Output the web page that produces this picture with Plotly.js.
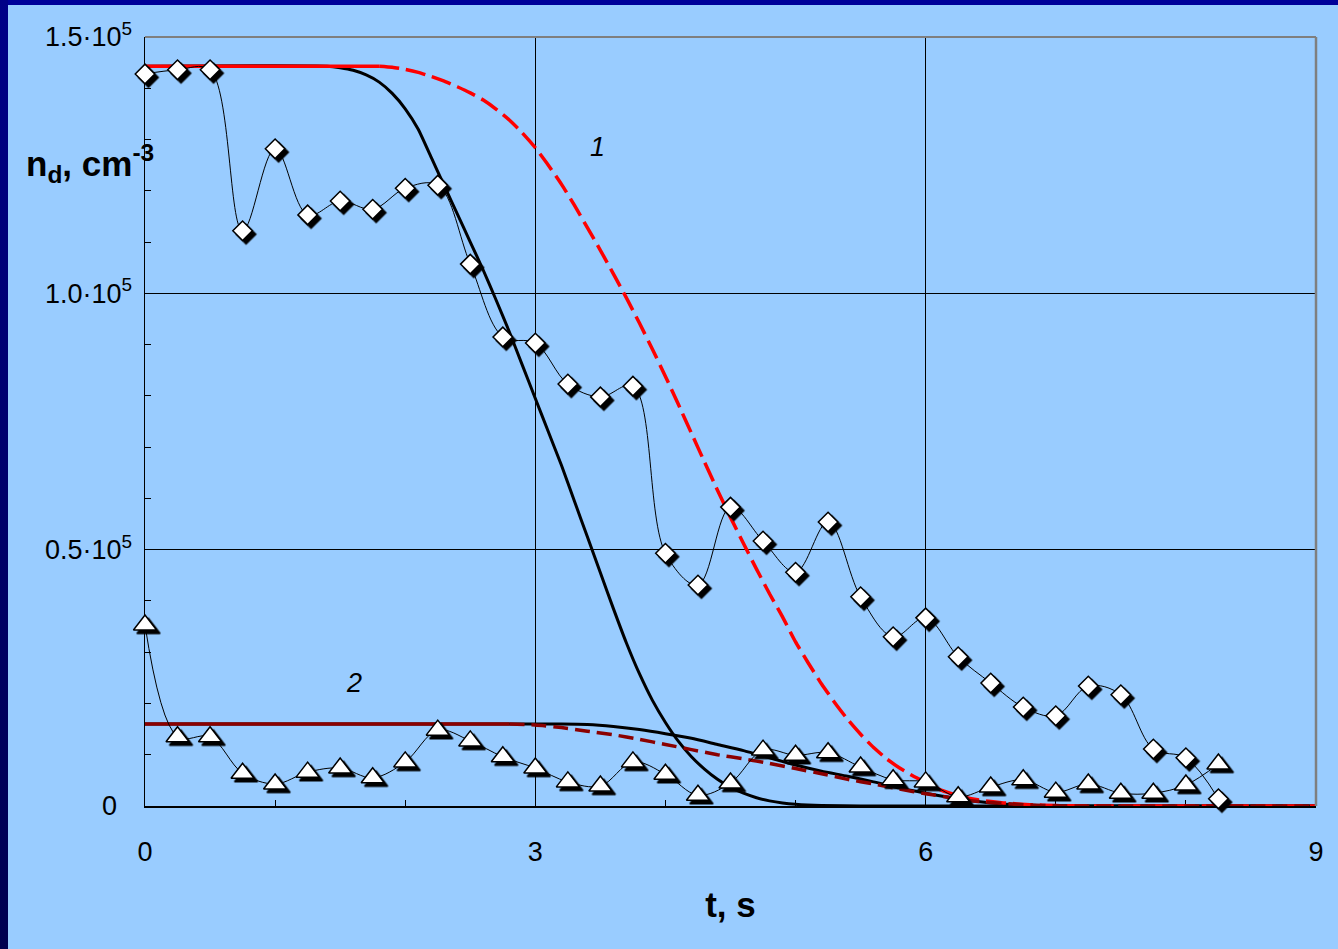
<!DOCTYPE html>
<html>
<head>
<meta charset="utf-8">
<script src="https://cdn.plot.ly/plotly-3.0.1.min.js"></script>
<style>
  html, body { margin: 0; padding: 0; background: #99ccff; overflow: hidden; }
  #topbar { position: absolute; left: 0; top: 0; width: 1338px; height: 5px; background: #000099; }
  #leftbar { position: absolute; left: 0; top: 0; width: 8px; height: 949px; background: linear-gradient(#000088, #000050); }
  #plot { position: absolute; left: 8px; top: 5px; width: 1330px; height: 944px; }
  /* offset black shadow under the experimental markers */
  #plot .scatterlayer .points path { filter: url(#mshadow); }
</style>
</head>
<body>
<svg width="0" height="0" style="position:absolute">
  <defs>
    <filter id="mshadow" x="-60%" y="-60%" width="220%" height="220%">
      <feDropShadow dx="3.5" dy="3.5" stdDeviation="0" flood-color="#000" flood-opacity="1"/>
    </filter>
  </defs>
</svg>
<div id="topbar"></div>
<div id="leftbar"></div>
<div id="plot"></div>
<script>
// Measurement times, s
const tExp = [0, 0.25, 0.5, 0.75, 1, 1.25, 1.5, 1.75, 2, 2.25, 2.5, 2.75, 3, 3.25, 3.5, 3.75,
              4, 4.25, 4.5, 4.75, 5, 5.25, 5.5, 5.75, 6, 6.25, 6.5, 6.75, 7, 7.25, 7.5, 7.75, 8, 8.25];

// Measured droplet concentration, cm^-3 — series 1 (diamonds)
const nExp1 = [142800, 143600, 143600, 112200, 128200, 115300, 118000, 116400, 120500, 121100,
               105700, 91500, 90300, 82300, 79800, 81900, 49300, 43100, 58300, 51700,
               45600, 55400, 40800, 33000, 36700, 29100, 24000, 19300, 17600, 23400,
               21700, 11100, 9400, 1400];

// Measured droplet concentration, cm^-3 — series 2 (triangles)
const nExp2 = [35300, 13500, 13500, 6400, 4300, 6600, 7400, 5500, 8600, 14800,
               12700, 9600, 7400, 4700, 3900, 8600, 6200, 2100, 4500, 10900,
               9900, 10400, 7600, 5100, 4700, 1800, 3700, 5100, 2700, 4300,
               2500, 2500, 4100, 8200];

// Model curve 1, solid black
const tCalc1a = [0, 1.4, 1.5, 1.6, 1.7, 1.8, 1.9, 2.0, 2.1, 2.2, 2.3, 2.4, 2.5, 2.6, 2.7, 2.8, 2.9,
                 3.0, 3.1, 3.2, 3.3, 3.4, 3.5, 3.6, 3.7, 3.8, 3.9, 4.0, 4.1, 4.2, 4.3, 4.4, 4.5,
                 4.6, 4.7, 4.8, 4.9, 5.0, 5.2, 5.5, 9.0];
const nCalc1a = [144300, 144300, 144000, 143500, 142600, 141200, 139000, 136000, 132000, 126500,
                 121000, 115500, 110000, 104500, 98600, 92500, 86000, 79500, 73000, 66500,
                 59500, 52500, 45500, 38500, 31800, 25800, 20600, 16300, 12600, 9600,
                 7200, 5200, 3600, 2500, 1600, 1000, 600, 350, 100, 0, 0];

// Model curve 1, red dashed
const tCalc1b = [0, 1.8, 1.9, 2.0, 2.1, 2.2, 2.3, 2.4, 2.5, 2.6, 2.7, 2.8, 2.9, 3.0, 3.1, 3.2,
                 3.3, 3.4, 3.5, 3.6, 3.7, 3.8, 3.9, 4.0, 4.1, 4.2, 4.3, 4.4, 4.5, 4.6, 4.7,
                 4.8, 4.9, 5.0, 5.1, 5.2, 5.3, 5.4, 5.5, 5.6, 5.7, 5.8, 5.9, 6.0, 6.1, 6.2,
                 6.3, 6.4, 6.6, 6.8, 7.0, 7.3, 9.0];
const nCalc1b = [144300, 144300, 144100, 143700, 143100, 142300, 141400, 140300, 139100, 137700,
                 135900, 133800, 131300, 128400, 125000, 121300, 117200, 112800, 108400, 103800,
                 99100, 94200, 89100, 83800, 78300, 72700, 67100, 61600, 56300, 51200,
                 46200, 41400, 36900, 32000, 27800, 23800, 20200, 16900, 14000, 11400,
                 9200, 7400, 5900, 4600, 3300, 2400, 1700, 1200, 600, 250, 80, 0, 0];

// Model curve 2, solid black
const tCalc2a = [0, 3.2, 3.4, 3.6, 3.8, 4.0, 4.2, 4.4, 4.6, 4.8, 5.0, 5.2, 5.4, 5.6, 5.8,
                 6.0, 6.2, 6.4, 6.6, 6.8, 7.0, 9.0];
const nCalc2a = [16000, 16000, 15900, 15500, 14900, 14100, 13200, 12000, 10800, 9400, 8000,
                 6800, 5800, 4700, 3500, 2500, 1600, 900, 400, 150, 0, 0];

// Model curve 2, dark red dashed
const tCalc2b = [0, 2.8, 3.0, 3.2, 3.4, 3.6, 3.8, 4.0, 4.2, 4.4, 4.6, 4.8, 5.0, 5.2, 5.4,
                 5.6, 5.8, 6.0, 6.2, 6.4, 6.6, 6.8, 7.0, 7.2, 9.0];
const nCalc2b = [16000, 16000, 15800, 15300, 14600, 13900, 13000, 12000, 11000, 10000, 9200,
                 8300, 7300, 6300, 5200, 4300, 3300, 2400, 1600, 900, 500, 200, 50, 0, 0];

// Axis ticks
const xTickVals = [0, 3, 6, 9];
const xTickText = ['0', '3', '6', '9'];
const xMinorVals = [1, 2, 4, 5, 7, 8];
const yTickVals = [0, 50000, 100000, 150000];
const yTickText = ['0\u00a0\u00a0', '0.5·10<sup>5</sup>', '1.0·10<sup>5</sup>', '1.5·10<sup>5</sup>'];
const yMinorVals = [10000, 20000, 30000, 40000, 60000, 70000, 80000, 90000,
                    110000, 120000, 130000, 140000];

// dashed model curves start out solid along their plateau, then switch to dashes
function part(t, n, lo, hi) {
  const x = [], y = [];
  t.forEach((v, i) => { if (v >= lo && v <= hi) { x.push(v); y.push(n[i]); } });
  return { x, y };
}
const red1Flat = part(tCalc1b, nCalc1b, 0, 1.8);
const red1Fall = part(tCalc1b, nCalc1b, 1.8, 9);
const red2Flat = part(tCalc2b, nCalc2b, 0, 2.8);
const red2Fall = part(tCalc2b, nCalc2b, 2.8, 9);

const FONT = 'Liberation Sans, Arial, sans-serif';

const traces = [
  { x: tCalc1a, y: nCalc1a, mode: 'lines', line: { color: '#000', width: 3, shape: 'spline', smoothing: 0.5 } },
  { x: tCalc2a, y: nCalc2a, mode: 'lines', line: { color: '#000', width: 3, shape: 'spline', smoothing: 0.5 } },
  { x: red1Flat.x, y: red1Flat.y, mode: 'lines', line: { color: '#ff0000', width: 3.5 } },
  { x: red1Fall.x, y: red1Fall.y, mode: 'lines', line: { color: '#ff0000', width: 3.5, dash: '20px,7px', shape: 'spline', smoothing: 0.5 } },
  { x: red2Flat.x, y: red2Flat.y, mode: 'lines', line: { color: '#8b0000', width: 3.5 } },
  { x: red2Fall.x, y: red2Fall.y, mode: 'lines', line: { color: '#8b0000', width: 3.5, dash: '15px,7px', shape: 'spline', smoothing: 0.5 } },
  { x: tExp, y: nExp1, mode: 'lines+markers', cliponaxis: false,
    line: { color: '#000', width: 1, shape: 'spline', smoothing: 1 },
    marker: { symbol: 'diamond', size: 15, color: '#fff', line: { color: '#000', width: 1.5 } } },
  { x: tExp, y: nExp2, mode: 'lines+markers', cliponaxis: false,
    line: { color: '#000', width: 1, shape: 'spline', smoothing: 1 },
    marker: { symbol: 'triangle-up', size: 20, color: '#fff', line: { color: '#000', width: 1.5 } } }
];

const layout = {
  width: 1330, height: 944,
  margin: { l: 137, r: 22, t: 32, b: 143 },
  paper_bgcolor: '#99ccff', plot_bgcolor: '#99ccff',
  showlegend: false,
  font: { family: FONT, color: '#000' },
  xaxis: {
    range: [0, 9], tickmode: 'array', tickvals: xTickVals, ticktext: xTickText,
    ticks: 'inside', ticklen: 6, tickwidth: 1, tickcolor: '#000',
    tickfont: { family: FONT, size: 27, color: '#000' }, ticklabelstandoff: 21,
    showline: true, linecolor: '#000', linewidth: 1.5, layer: 'below traces',
    showgrid: true, gridcolor: '#000', gridwidth: 1, zeroline: false,
    minor: { tickmode: 'array', tickvals: xMinorVals, ticks: 'inside', ticklen: 6, tickcolor: '#000', showgrid: false },
    title: { text: '<b>t, s</b>', font: { family: FONT, size: 35, color: '#000' }, standoff: 26 }
  },
  yaxis: {
    range: [0, 150000], tickmode: 'array', tickvals: yTickVals, ticktext: yTickText,
    ticks: 'inside', ticklen: 6, tickwidth: 1, tickcolor: '#000',
    tickfont: { family: FONT, size: 27, color: '#000' }, ticklabelstandoff: 6,
    showline: true, linecolor: '#000', linewidth: 1.5, layer: 'below traces',
    showgrid: true, gridcolor: '#000', gridwidth: 1, zeroline: false,
    minor: { tickmode: 'array', tickvals: yMinorVals, ticks: 'inside', ticklen: 6, tickcolor: '#000', showgrid: false }
  },
  shapes: [
    { type: 'line', xref: 'paper', yref: 'paper', x0: 0, x1: 1, y0: 1, y1: 1, line: { color: '#7f7f7f', width: 2 } },
    { type: 'line', xref: 'paper', yref: 'paper', x0: 1, x1: 1, y0: 0, y1: 1, line: { color: '#7f7f7f', width: 2.5 } }
  ],
  annotations: [
    { xref: 'paper', yref: 'paper', x: -0.1035, y: 0.835, xanchor: 'left', yanchor: 'middle',
      showarrow: false, text: '<b>n<sub>d</sub>, cm<sup>-3</sup></b>',
      font: { family: FONT, size: 35, color: '#000' } },
    { x: 3.48, y: 128500, showarrow: false, text: '<i>1</i>', font: { family: FONT, size: 27, color: '#000' } },
    { x: 1.61, y: 24000, showarrow: false, text: '<i>2</i>', font: { family: FONT, size: 27, color: '#000' } }
  ]
};

Plotly.newPlot('plot', traces, layout, { displayModeBar: false, staticPlot: true });
</script>
</body>
</html>
